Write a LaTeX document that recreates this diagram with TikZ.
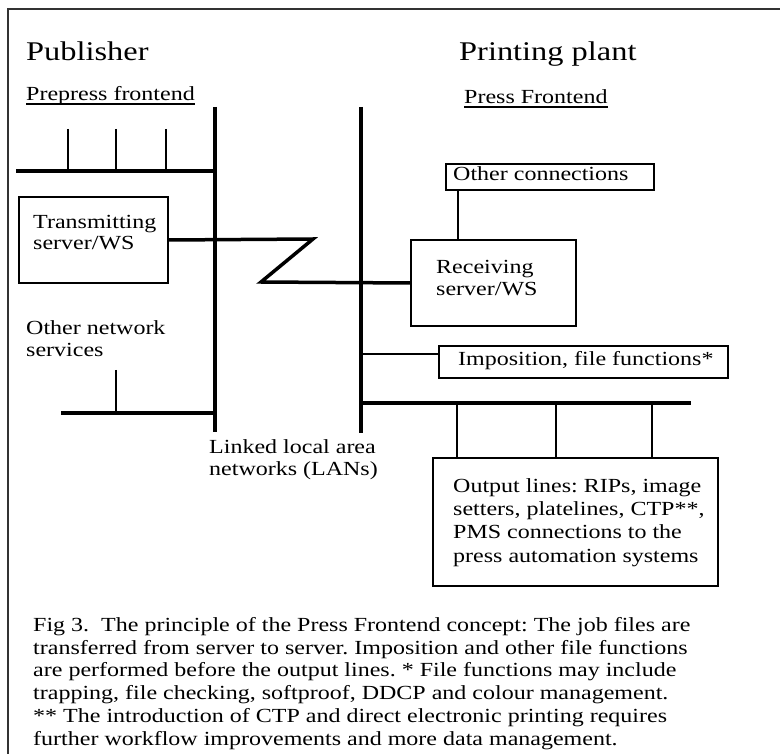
\documentclass[tikz,border=0pt]{standalone}
\usepackage{fontspec}
\setmainfont{Liberation Serif}[FakeStretch=1.2]
\usepackage{tikz}

\begin{document}
\frenchspacing
\begin{tikzpicture}[x=1pt,y=-1pt,
  lan/.style={line width=3.5pt},
  tap/.style={line width=2pt},
  box/.style={draw,line width=2pt,inner sep=0,anchor=north west},
  head/.style={inner sep=0,anchor=base west,font=\fontsize{27}{30}\selectfont},
  lbl/.style={inner sep=0,anchor=base west,align=left,font=\fontsize{20}{22}\selectfont},
  uline/.style={line width=1.2pt}]
\useasboundingbox (0,0) rectangle (780,754);
\draw[line width=2pt,black!80] (780,9) -- (8,9) -- (8,754);
% headings
\node[head] (pub) at (26,61) {Publisher};
\node[head] (plant) at (459,61) {Printing plant};
\node[lbl] (pre) at (26,101) {Prepress frontend};
\draw[uline] ([yshift=-3pt]pre.base west) -- ([yshift=-3pt]pre.base east);
\node[lbl] (pfe) at (464,104) {Press Frontend};
\draw[uline] ([yshift=-3pt]pfe.base west) -- ([yshift=-3pt]pfe.base east);
% boxes (text nodes sit on their last line)
\node[box,minimum width=149pt,minimum height=86pt] (trans) at (18,196) {};
\node[lbl,font=\fontsize{20}{21}\selectfont] (transtxt) at (33,250) {Transmitting\\server/WS};
\node[box,minimum width=208pt,minimum height=26pt] (oc) at (445,163) {};
\node[lbl] (octxt) at (453,181) {Other connections};
\node[box,minimum width=165pt,minimum height=86pt] (recv) at (410,239) {};
\node[lbl] (recvtxt) at (436,296) {Receiving\\server/WS};
\node[box,minimum width=289pt,minimum height=32pt] (imp) at (438,345) {};
\node[lbl] (imptxt) at (458,366) {Imposition, file functions*};
\node[box,minimum width=285pt,minimum height=128pt] (out) at (432,457) {};
\node[lbl,font=\fontsize{20}{23.3}\selectfont] (outtxt) at (453,562) {Output lines: RIPs, image\\setters, platelines, CTP**,\\PMS connections to the\\press automation systems};
\node[lbl] (ons) at (26,356) {Other network\\services};
\node[lbl] (links) at (209,475) {Linked local area\\networks (LANs)};
% network lines
\coordinate (lantop) at (215,107);
\coordinate (lanbot) at (215,432);
\coordinate (pftop) at (361,107);
\coordinate (pfbot) at (361,433);
\draw[lan] (lantop) -- (lanbot);
\draw[lan] (pftop) -- (pfbot);
\coordinate (busw) at (16,171);
\coordinate (buse) at (215,171);
\draw[lan] (busw) -- (buse);
\coordinate (tapa) at (68,129);
\coordinate (tapb) at (116,129);
\coordinate (tapc) at (166,129);
\draw[tap] (tapa) -- (tapa |- busw);
\draw[tap] (tapb) -- (tapb |- busw);
\draw[tap] (tapc) -- (tapc |- busw);
\coordinate (onsw) at (61,413);
\coordinate (onse) at (215,413);
\coordinate (onstap) at (116,370);
\draw[lan] (onsw) -- (onse);
\draw[tap] (onstap) -- (onstap |- onsw);
\coordinate (zt) at (313,239);
\coordinate (zb) at (261,282);
\draw[lan] (trans.east) -- (zt) -- (zb) -- (recv.west);
\coordinate (ocl) at (458,189);
\draw[tap] (ocl |- oc.south) -- (ocl |- recv.north);
\coordinate (impl) at (361,354);
\draw[tap] (impl) -- (impl -| imp.west);
\coordinate (outw) at (361,403);
\coordinate (oute) at (691,403);
\draw[lan] (outw) -- (oute);
\coordinate (outa) at (457,403);
\coordinate (outb) at (556,403);
\coordinate (outc) at (652,403);
\draw[tap] (outa) -- (outa |- out.north);
\draw[tap] (outb) -- (outb |- out.north);
\draw[tap] (outc) -- (outc |- out.north);
% caption
\node[lbl,font=\fontsize{20}{22.7}\selectfont] (cap) at (33,745) {Fig 3.\ \ The principle of the Press Frontend concept: The job files are\\transferred from server to server. Imposition and other file functions\\are performed before the output lines. * File functions may include\\trapping, file checking, softproof, DDCP and colour management.\\** The introduction of CTP and direct electronic printing requires\\further workflow improvements and more data management.};
\end{tikzpicture}
\end{document}
